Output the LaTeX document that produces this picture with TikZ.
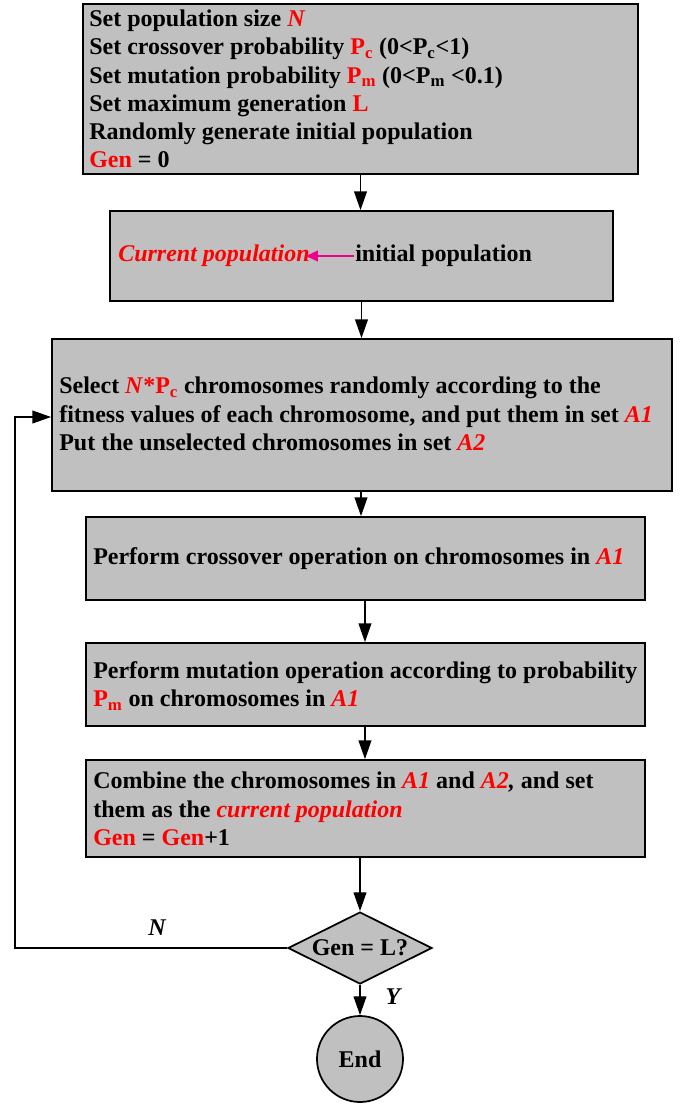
\documentclass[tikz,border=0pt]{standalone}
\usepackage{fontspec}
\setmainfont{Liberation Serif}
\usetikzlibrary{arrows.meta,shapes.geometric,calc}
\definecolor{boxgray}{RGB}{192,192,192}
\definecolor{myred}{RGB}{255,0,0}
\newcommand{\rd}[1]{\textcolor{myred}{#1}}
\newcommand{\ri}[1]{\textcolor{myred}{\textit{#1}}}
\newcommand{\Psub}[1]{P\textsubscript{#1}}
\begin{document}
\begin{tikzpicture}[x=0.75pt,y=-0.75pt,
  box/.style={draw=black, line width=1.3pt, fill=boxgray, rectangle, inner sep=0pt},
  txt/.style={font=\fontsize{18}{21.2}\selectfont\bfseries, align=left, inner sep=0pt, anchor=west},
  lbl/.style={font=\fontsize{18}{21.2}\selectfont\bfseries\itshape, inner sep=0pt},
  arr/.style={-{Triangle[length=14pt,width=9.5pt]}, line width=1.2pt},
  marr/.style={-{Triangle[length=9pt,width=8pt]}, line width=1.6pt, draw=magenta, fill=magenta}]
\useasboundingbox (0,0) rectangle (683,1104);

% boxes
\node[box, minimum width=416.25pt, minimum height=127.5pt] (b1) at (360.5,89) {};
\node[box, minimum width=377.25pt, minimum height=67.5pt] (b2) at (361.5,256) {};
\node[box, minimum width=465pt, minimum height=114pt] (b3) at (362,415) {};
\node[box, minimum width=419.25pt, minimum height=62.25pt] (b4) at (365.5,558.5) {};
\node[box, minimum width=419.25pt, minimum height=62.25pt] (b5) at (365.5,684.5) {};
\node[box, minimum width=419.25pt, minimum height=72.75pt] (b6) at (365.5,808.5) {};
\node[box, diamond, aspect=2, minimum width=108pt, minimum height=54pt,
      font=\fontsize{18}{21.2}\selectfont\bfseries] (dia) at (360,948) {Gen = L?};
\node[box, circle, minimum size=64.5pt,
      font=\fontsize{18}{21.2}\selectfont\bfseries] (end) at (360,1059) {End};

% texts
\node[txt] (t1) at (89,89) {Set population size \ri{N}\\
Set crossover probability \rd{\Psub{c}} (0<\Psub{c}<1)\\
Set mutation probability \rd{\Psub{m}} (0<\Psub{m} <0.1)\\
Set maximum generation \rd{L}\\
Randomly generate initial population\\
\rd{Gen} = 0};

\node[txt] (cp) at (118,256) {\ri{Current population}};
\node[txt] (ip) at (355,256) {initial population};
\draw[marr] ([xshift=-1pt]ip.west) -- ([xshift=-3pt]cp.east);

\node[txt] (t3) at (59,414) {Select \ri{N}\rd{*\Psub{c}} chromosomes randomly according to the\\
fitness values of each chromosome, and put them in set \ri{A1}\\
Put the unselected chromosomes in set \ri{A2}};

\node[txt] (t4) at (93,559) {Perform crossover operation on chromosomes in \ri{A1}};

\node[txt] (t5) at (93,686) {Perform mutation operation according to probability\\
\rd{\Psub{m}} on chromosomes in \ri{A1}};

\node[txt] (t6) at (93,809) {Combine the chromosomes in \ri{A1} and \ri{A2}\textit{,} and set\\
them as the \ri{current population}\\
\rd{Gen} = \rd{Gen}+1};

% connectors
\draw[arr] (b1.south) -- (b1.south |- b2.north);
\draw[arr] (b2.south) -- (b2.south |- b3.north);
\draw[arr] ([xshift=-0.75pt]b3.south) -- ([xshift=-0.75pt]b3.south |- b4.north);
\draw[arr] ([xshift=-0.4pt]b4.south) -- ([xshift=-0.4pt]b5.north);
\draw[arr] ([xshift=-0.4pt]b5.south) -- ([xshift=-0.4pt]b6.north);
\draw[arr] (b6.south -| dia.north) -- (dia.north);
\draw[arr] (dia.south) -- (end.north);

\coordinate (lp) at (15,417);
\draw[arr] (dia.west) -| (lp) -- (lp -| b3.west);

\node[lbl] (nl) at (157,928) {N};
\node[lbl] (yl) at (393,997) {Y};
\end{tikzpicture}
\end{document}
